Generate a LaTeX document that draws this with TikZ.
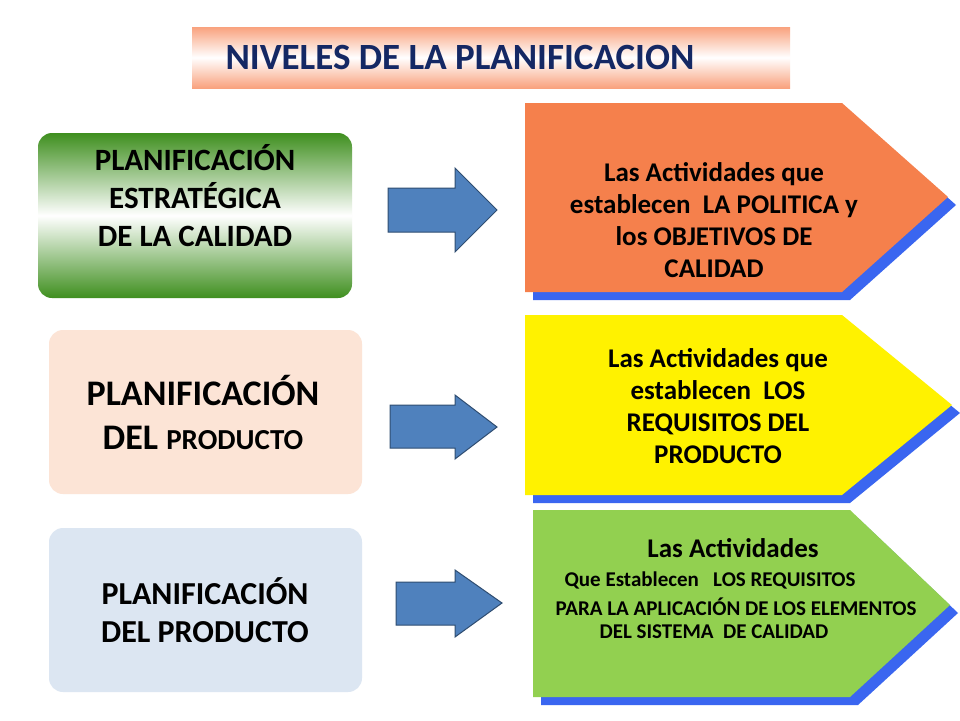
\documentclass[tikz,border=0pt]{standalone}
\usepackage{fontspec}
\setmainfont{Carlito}
\begin{document}
\begin{tikzpicture}[x=1pt,y=-1pt,
  shadowc/.style={fill=sh},
  barrow/.style={fill=ab,draw=ab!60!black,line width=1pt},
  txt/.style={font=\bfseries,align=center,text=black}]
\definecolor{sh}{HTML}{3A66F0}
\definecolor{ab}{HTML}{4F81BD}
\definecolor{sal}{HTML}{F9A27E}
\definecolor{gr}{HTML}{3F8F1F}
\useasboundingbox (0,0) rectangle (960,720);
\fill[white] (0,0) rectangle (960,720);
% title
\shade[top color=sal,bottom color=sal,middle color=white] (192,27) rectangle (790,88);
\node[anchor=west,font=\bfseries\fontsize{37}{40}\selectfont,text={rgb,255:red,20;green,40;blue,100}] (title) at (222,57) {NIVELES DE LA PLANIFICACION};
% left boxes
\shade[rounded corners=14pt,top color=gr,bottom color=gr,middle color=white] (38,133) rectangle (352,298);
\node[txt,font=\bfseries\fontsize{31}{38}\selectfont] (b1) at (195,196) {PLANIFICACIÓN\\ESTRATÉGICA\\DE LA CALIDAD};
\fill[rounded corners=14pt,fill={rgb,255:red,252;green,228;blue,214}] (49,330) rectangle (362,494);
\node[txt,font=\bfseries\fontsize{36}{44}\selectfont] (b2) at (203,412) {PLANIFICACIÓN\\DEL {\fontsize{29}{25}\selectfont PRODUCTO}};
\fill[rounded corners=14pt,fill={rgb,255:red,220;green,230;blue,242}] (49,528) rectangle (362,692);
\node[txt,font=\bfseries\fontsize{32}{38}\selectfont] (b3) at (205,610) {PLANIFICACIÓN\\DEL PRODUCTO};
% arrows
\draw[barrow] (388,188) -- (455,188) -- (455,168) -- (497,210) -- (455,252) -- (455,232) -- (388,232) -- cycle;
\draw[barrow] (390,405) -- (455,405) -- (455,395) -- (497,427) -- (455,459) -- (455,448) -- (390,448) -- cycle;
\draw[barrow] (396,582) -- (455,582) -- (455,570) -- (502,603) -- (455,637) -- (455,625) -- (396,625) -- cycle;
% pentagons
\fill[sh] (533,111) -- (850,111) -- (956,205) -- (850,300) -- (533,300) -- cycle;
\fill[fill={rgb,255:red,245;green,128;blue,76}] (525,103) -- (842,103) -- (948,197) -- (842,292) -- (525,292) -- cycle;
\node[txt,font=\bfseries\fontsize{27}{32}\selectfont] (p1) at (714,220) {Las Actividades que\\establecen\ \ LA POLITICA y\\los OBJETIVOS DE\\CALIDAD};
\fill[sh] (533,323) -- (850,323) -- (960,413) -- (850,503) -- (533,503) -- cycle;
\fill[yellow] (525,315) -- (842,315) -- (952,405) -- (842,495) -- (525,495) -- cycle;
\node[txt,font=\bfseries\fontsize{27}{32}\selectfont] (p2) at (718,406) {Las Actividades que\\establecen\ \ LOS\\REQUISITOS DEL\\PRODUCTO};
\fill[sh] (541,518) -- (858,518) -- (958,613) -- (858,705) -- (541,705) -- cycle;
\fill[fill={rgb,255:red,146;green,208;blue,80}] (533,510) -- (850,510) -- (950,605) -- (850,697) -- (533,697) -- cycle;
\node[txt,font=\bfseries\fontsize{27}{30}\selectfont] (p3) at (733,548) {Las Actividades};
\node[anchor=west,font=\bfseries\fontsize{21}{24}\selectfont] (p3a) at (561,580) {Que\ Establecen\ \ \ LOS REQUISITOS};
\node[anchor=west,font=\bfseries\fontsize{21}{24}\selectfont] (p3b) at (552,607) {PARA LA APLICACIÓN DE LOS ELEMENTOS};
\node[anchor=west,font=\bfseries\fontsize{21}{24}\selectfont] (p3c) at (596,632) {DEL SISTEMA\ \ DE CALIDAD};
\end{tikzpicture}
\end{document}
